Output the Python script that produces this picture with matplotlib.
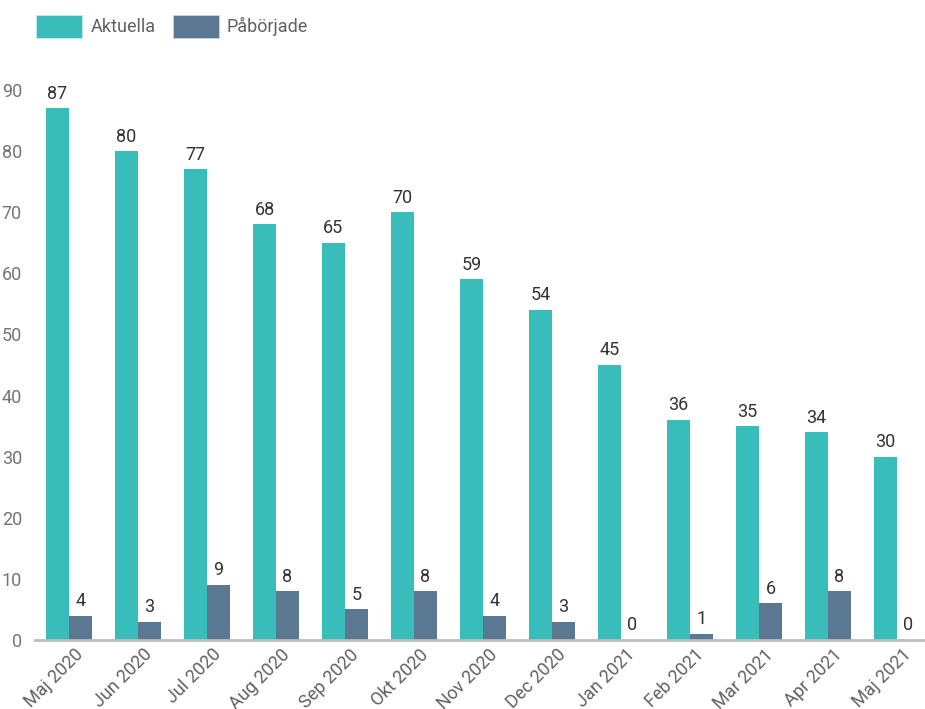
import matplotlib
matplotlib.use("Agg")
import matplotlib.pyplot as plt
import matplotlib.transforms as mtransforms
import numpy as np
from matplotlib.patches import Patch

categories = ["Maj 2020", "Jun 2020", "Jul 2020", "Aug 2020", "Sep 2020", "Okt 2020",
              "Nov 2020", "Dec 2020", "Jan 2021", "Feb 2021", "Mar 2021", "Apr 2021", "Maj 2021"]
aktuella = [87, 80, 77, 68, 65, 70, 59, 54, 45, 36, 35, 34, 30]
paborjade = [4, 3, 9, 8, 5, 8, 4, 3, 0, 1, 6, 8, 0]
series_names = ["Aktuella", "Påbörjade"]
yticks = [0, 10, 20, 30, 40, 50, 60, 70, 80, 90]

plt.rcParams['font.family'] = ['Roboto', 'DejaVu Sans']
teal = "#38BDBB"
slate = "#5A7891"

W, H = 925, 709
fig = plt.figure(figsize=(W/100, H/100), dpi=100)
ax = fig.add_axes([34.5/W, 69/H, (924.6-34.5)/W, 550/H])

x = np.arange(len(categories))
bw = 23/69
b1 = ax.bar(x - bw/2, aktuella, width=bw, color=teal, label=series_names[0])
b2 = ax.bar(x + bw/2, paborjade, width=bw, color=slate, label=series_names[1])
for bars in (b1, b2):
    ax.bar_label(bars, padding=4, fontsize=13, color="#333333", clip_on=False)

ax.set_xlim(-0.5, 12.4)
ax.set_ylim(0, 90)
ax.set_yticks(yticks)
ax.set_xticks(x)
ax.set_xticklabels(categories, rotation=45, ha='right', rotation_mode='anchor')
ax.tick_params(axis='x', length=0, pad=4, labelsize=13, labelcolor="#616161")
ax.tick_params(axis='y', length=0, pad=9, labelsize=13, labelcolor="#757575")
offset = mtransforms.ScaledTranslation(5/100, 0, fig.dpi_scale_trans)
for t in ax.get_xticklabels():
    t.set_transform(t.get_transform() + offset)
for s in ["top", "right", "left"]:
    ax.spines[s].set_visible(False)
ax.spines["bottom"].set_color("#BDBDBD")
ax.spines["bottom"].set_linewidth(2)

handles = [Patch(facecolor=teal, edgecolor='#d0eeee', linewidth=0.5),
           Patch(facecolor=slate, edgecolor='#d0dde5', linewidth=0.5)]
fig.legend(handles, series_names, loc='upper left', bbox_to_anchor=(29/W, 1 - 8/H),
           ncol=2, frameon=False, fontsize=13, handlelength=2.55, handleheight=1.55,
           handletextpad=0.45, columnspacing=0.95, labelcolor="#616161", borderaxespad=0)

fig.savefig("out.png", dpi=100)
